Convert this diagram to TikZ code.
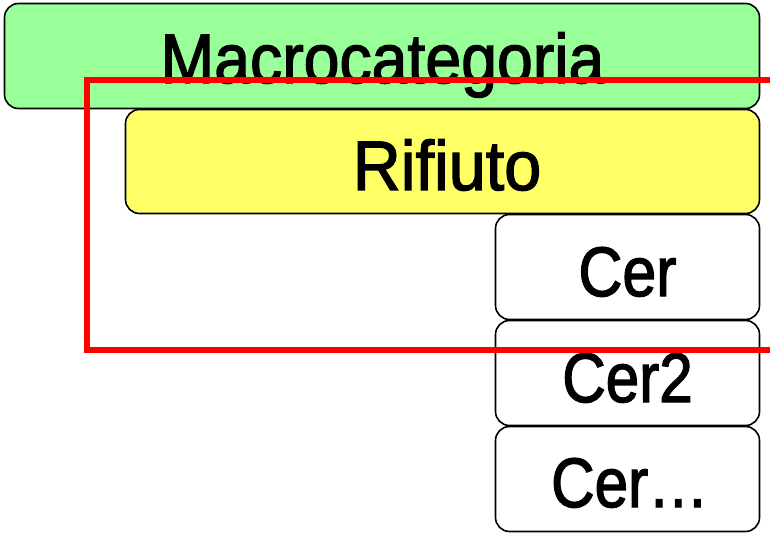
\documentclass[tikz,border=0pt]{standalone}
\usepackage{fontspec}
\setmainfont{Liberation Sans}
\newfontfamily\medfont[FakeBold=2]{Liberation Sans}
\definecolor{boxgreen}{HTML}{99FF99}
\definecolor{boxyellow}{HTML}{FFFF66}
\definecolor{framered}{HTML}{FF0000}
\tikzset{
  box/.style={draw=black, line width=1.6pt, rounded corners=14pt, inner sep=0pt, outer sep=0pt},
  lbl/.style={anchor=base, inner sep=0pt, font=\fontsize{70}{70}\medfont},
}
\begin{document}
\begin{tikzpicture}[x=1pt,y=-1pt]
\useasboundingbox (0,0) rectangle (770,534);
\node[box, fill=boxgreen, minimum width=755pt, minimum height=105pt] (macro) at (382,56) {};
\node[lbl, xscale=0.92] (macrot) at (382.5,83) {Macrocategoria};
\node[box, fill=boxyellow, minimum width=634pt, minimum height=104pt] (rif) at (442.5,161.5) {};
\node[lbl, xscale=0.95] (rift) at (447,190) {Rifiuto};
\node[box, fill=white, minimum width=264pt, minimum height=105pt] (cer1) at (627.5,267) {};
\node[lbl, xscale=0.87] (cer1t) at (627.5,296) {Cer};
\node[box, fill=white, minimum width=264pt, minimum height=105pt] (cer2) at (627.5,373) {};
\node[lbl, xscale=0.86] (cer2t) at (627.5,402) {Cer2};
\node[box, fill=white, minimum width=264pt, minimum height=105pt] (cer3) at (627.5,479) {};
\node[lbl, xscale=0.86, anchor=base west] (cer3t) at (551,507) {Cer…};
\coordinate (r1) at (770,80);
\coordinate (r2) at (87,80);
\coordinate (r3) at (87,350);
\coordinate (r4) at (770,350);
\draw[framered, line width=6pt] (r1) -- (r2) -- (r3) -- (r4);
\end{tikzpicture}
\end{document}
